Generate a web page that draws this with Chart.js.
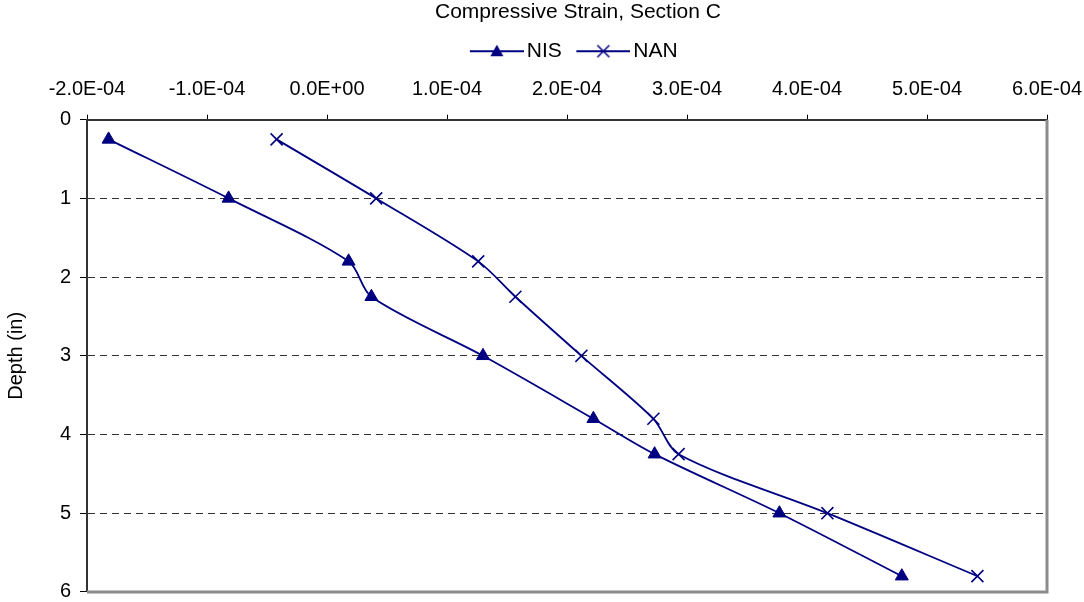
<!DOCTYPE html>
<html>
<head>
<meta charset="utf-8">
<script src="https://cdn.jsdelivr.net/npm/chart.js@4/dist/chart.umd.min.js"></script>
<style>
  html, body { margin: 0; padding: 0; background: #fff; }
  #wrap { width: 1084px; height: 602px; }
</style>
</head>
<body>
<div id="wrap"><canvas id="chart"></canvas></div>
<script>
// depth of each gauge (in)
const depths = [0.25, 1, 1.8, 2.25, 3, 3.8, 4.25, 5, 5.8];
const strainNIS = [-1.82e-4, -0.82e-4, 0.18e-4, 0.37e-4, 1.30e-4, 2.22e-4, 2.73e-4, 3.77e-4, 4.79e-4];
const strainNAN = [-0.42e-4, 0.41e-4, 1.26e-4, 1.57e-4, 2.12e-4, 2.72e-4, 2.93e-4, 4.17e-4, 5.42e-4];
const strainTicks = [-2e-4, -1e-4, 0, 1e-4, 2e-4, 3e-4, 4e-4, 5e-4, 6e-4];
const depthTicks = [0, 1, 2, 3, 4, 5, 6];

const NAVY = '#000080';
const FONT = '"Liberation Sans", Arial, sans-serif';

// Excel style number: -2.0E-04
function sci(v) {
    if (Math.abs(v) < 1e-12) return '0.0E+00';
    const parts = v.toExponential(1).split('e');
    const sign = parts[1][0] === '-' ? '-' : '+';
    const n = Math.abs(parseInt(parts[1], 10));
    return parts[0] + 'E' + sign + String(n).padStart(2, '0');
}

// legend swatch: line with marker, pushed right inside a wider image
// so the gap before the label is small and the gap after it is wide
function legendSwatch(marker) {
    const off = 15;
    const c = document.createElement('canvas');
    c.width = 54 + off;
    c.height = 18;
    const ctx = c.getContext('2d');
    ctx.strokeStyle = NAVY;
    ctx.fillStyle = NAVY;
    ctx.lineWidth = 2;
    ctx.beginPath();
    ctx.moveTo(off, 9);
    ctx.lineTo(off + 54, 9);
    ctx.stroke();
    const cx = off + 27;
    if (marker === 'triangle') {
        ctx.beginPath();
        ctx.moveTo(cx, 2.5);
        ctx.lineTo(cx + 6.5, 14);
        ctx.lineTo(cx - 6.5, 14);
        ctx.closePath();
        ctx.fill();
    } else {
        ctx.lineWidth = 1.5;
        ctx.beginPath();
        ctx.moveTo(cx - 6, 3); ctx.lineTo(cx + 6, 15);
        ctx.moveTo(cx + 6, 3); ctx.lineTo(cx - 6, 15);
        ctx.stroke();
    }
    return c;
}

const swatches = [legendSwatch('triangle'), legendSwatch('cross')];

// right and bottom frame of the plot area
const frame = {
    id: 'frame',
    afterDraw(chart) {
        const a = chart.chartArea;
        const ctx = chart.ctx;
        ctx.save();
        ctx.strokeStyle = '#8c8c8c';
        ctx.lineWidth = 3;
        ctx.beginPath();
        ctx.moveTo(a.left, a.bottom);
        ctx.lineTo(a.right, a.bottom);
        ctx.lineTo(a.right, a.top);
        ctx.stroke();
        ctx.restore();
    }
};

// title and legend sit a bit right of the canvas centre in the original,
// and the legend a little lower than the packed layout puts it
const shiftHeader = {
    id: 'shiftHeader',
    afterLayout(chart) {
        chart.titleBlock.left += 36;
        chart.titleBlock.right += 36;
        chart.legend.left += 28;
        chart.legend.right += 28;
        chart.legend.top += 7;
        chart.legend.bottom += 7;
    }
};

new Chart(document.getElementById('chart'), {
    type: 'scatter',
    data: {
        datasets: [{
            label: 'NIS',
            data: depths.map((d, i) => ({ x: strainNIS[i], y: d })),
            showLine: true,
            borderColor: NAVY,
            backgroundColor: NAVY,
            borderWidth: 1.8,
            tension: 0.3,
            pointStyle: 'triangle',
            pointRadius: 7.5,
            pointBorderWidth: 1
        }, {
            label: 'NAN',
            data: depths.map((d, i) => ({ x: strainNAN[i], y: d })),
            showLine: true,
            borderColor: NAVY,
            backgroundColor: NAVY,
            borderWidth: 1.8,
            tension: 0.3,
            pointStyle: 'crossRot',
            pointRadius: 8.5,
            pointBorderWidth: 1.6
        }]
    },
    options: {
        responsive: true,
        maintainAspectRatio: false,
        animation: false,
        clip: false,
        layout: { padding: { top: 0, right: 0, bottom: 5, left: 0 } },
        plugins: {
            tooltip: { enabled: false },
            title: {
                display: true,
                text: 'Compressive Strain, Section C',
                color: '#000',
                font: { family: FONT, size: 21, weight: 'normal' },
                padding: { top: 0, bottom: 1.5 }
            },
            legend: {
                display: true,
                labels: {
                    color: '#000',
                    font: { family: FONT, size: 21 },
                    usePointStyle: true,
                    pointStyleWidth: 54,
                    padding: 7,
                    generateLabels: (chart) => chart.data.datasets.map((ds, i) => ({
                        text: ds.label,
                        pointStyle: swatches[i],
                        fillStyle: NAVY,
                        strokeStyle: NAVY,
                        lineWidth: 0,
                        datasetIndex: i,
                        fontColor: '#000'
                    }))
                }
            }
        },
        scales: {
            x: {
                type: 'linear',
                position: 'top',
                min: strainTicks[0],
                max: strainTicks[strainTicks.length - 1],
                afterBuildTicks: (scale) => { scale.ticks = strainTicks.map(v => ({ value: v })); },
                afterFit: (scale) => { scale.paddingRight = 37; },
                ticks: {
                    color: '#000',
                    font: { family: FONT, size: 20 },
                    padding: 13,
                    maxRotation: 0,
                    autoSkip: false,
                    callback: (v) => sci(v)
                },
                grid: {
                    drawOnChartArea: false,
                    drawTicks: true,
                    tickLength: 5,
                    tickColor: '#000'
                },
                border: { display: true, color: '#333', width: 2 }
            },
            y: {
                type: 'linear',
                reverse: true,
                min: 0,
                max: 6,
                afterBuildTicks: (scale) => { scale.ticks = depthTicks.map(v => ({ value: v })); },
                afterFit: (scale) => {
                    scale.width = 87;
                    scale.paddingTop = 0;
                    scale.paddingBottom = 0;
                },
                title: {
                    display: true,
                    text: 'Depth (in)',
                    color: '#000',
                    font: { family: FONT, size: 20 },
                    padding: { top: 4, bottom: 0 }
                },
                ticks: {
                    color: '#000',
                    font: { family: FONT, size: 20 },
                    padding: 9
                },
                grid: {
                    drawTicks: true,
                    tickLength: 7,
                    tickColor: '#000',
                    color: (ctx) => (ctx.tick && (ctx.tick.value === 0 || ctx.tick.value === 6)) ? 'rgba(0,0,0,0)' : '#333',
                    lineWidth: 1
                },
                border: { display: true, color: '#333', width: 2, dash: [7, 5] }
            }
        }
    },
    plugins: [frame, shiftHeader]
});
</script>
</body>
</html>
